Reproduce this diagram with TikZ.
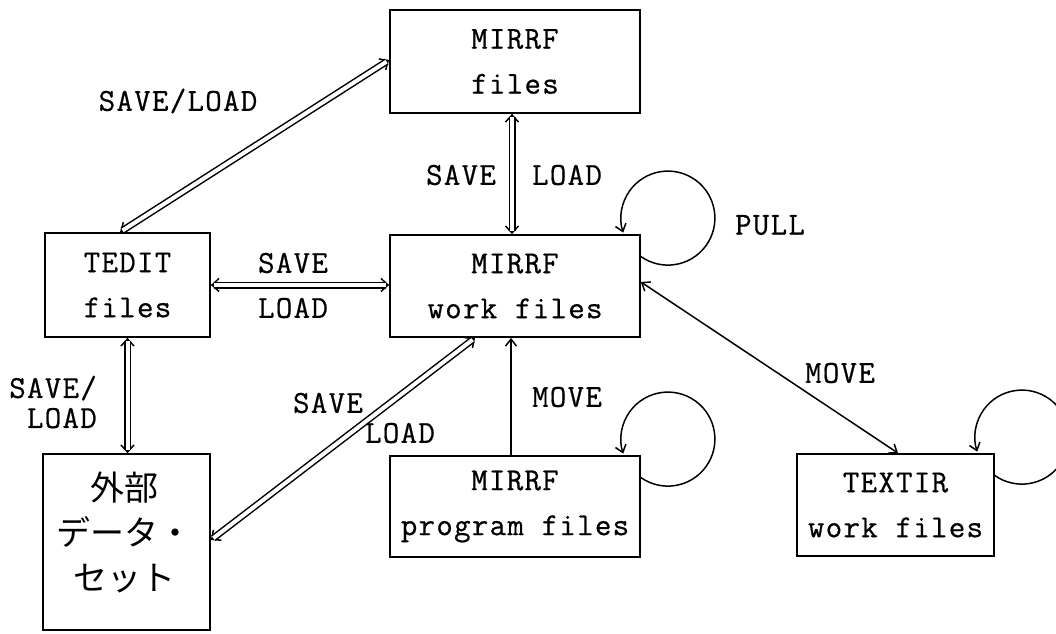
\documentclass[tikz,border=0pt]{standalone}
\usepackage{fontspec}
\setmonofont{Latin Modern Mono}[LetterSpace=4,FakeBold=0.6]
\newfontfamily\jpfont{Noto Sans CJK JP}
\usetikzlibrary{arrows.meta,calc}

\newcommand\dblarrow[2]{%
  \draw[tipped] #1 -- #2;
  \draw[dbl] #1 -- #2;}

\begin{document}
\begin{tikzpicture}[x=1pt,y=1pt,
  box/.style={draw, line width=1.8pt, inner sep=0pt, align=center,
    font=\ttfamily\fontsize{32}{45}\selectfont},
  lbl/.style={font=\ttfamily\fontsize{32}{30}\selectfont, inner sep=0pt},
  barb/.tip={Straight Barb[length=7pt,width=13pt]},
  sbarb/.tip={Straight Barb[length=7pt,width=11pt]},
  tipped/.style={line width=1.5pt, barb-barb},
  dbl/.style={double, double distance=4pt, line width=1.5pt,
    shorten <=3pt, shorten >=3pt},
  single/.style={line width=1.5pt},
  loopline/.style={line width=1.5pt, -sbarb}]
\useasboundingbox (0,0) rectangle (1056,633);
\clip (0,0) rectangle (1056,633);

% boxes
\node[box, minimum width=250, minimum height=103] (mf) at (515,571.5) {MIRRF\\files};
\node[box, minimum width=165, minimum height=104] (te) at (127.5,348) {TEDIT\\files};
\node[box, minimum width=250, minimum height=102] (mw) at (515,347) {MIRRF\\work files};
\node[box, minimum width=167, minimum height=176] (ex) at (126.5,91) {};
\node[font=\jpfont\fontsize{34}{45}\selectfont, align=center, inner sep=0pt]
  (exlbl) at (124,101) {外部\\データ・\\セット};
\node[box, minimum width=250, minimum height=101] (mp) at (515,126.5) {MIRRF\\program files};
\node[box, minimum width=197, minimum height=102] (tx) at (895.5,128) {TEXTIR\\work files};

% double-line transfers
\dblarrow{([xshift=-7.5pt]te.north)}{([yshift=1.5pt]mf.west)}
\dblarrow{([xshift=-3pt]mf.south)}{([xshift=-3pt]mw.north)}
\dblarrow{(te.east)}{(te.east -| mw.west)}
\dblarrow{(te.south)}{(te.south |- ex.north)}
\dblarrow{([yshift=2pt]ex.east)}{([xshift=-40pt]mw.south)}

% single-line moves
\draw[single, -sbarb] ([xshift=-4pt]mp.north) -- ([xshift=-4pt]mw.south);
\draw[single, sbarb-sbarb] ([yshift=4pt]mw.east) -- ([xshift=2.5pt]tx.north);

% self loops
\coordinate (c1) at ([shift={(27,16)}]mw.north east);
\coordinate (c2) at ([shift={(27,16)}]mp.north east);
\coordinate (c3) at ([shift={(27,16)}]tx.north east);
\foreach \c in {c1,c2,c3}
  \draw[loopline] ([shift={(234:47)}]\c) arc[start angle=234, end angle=558, radius=47];

% labels
\node[lbl] (l1) at (178,532) {SAVE/LOAD};
\node[lbl] (l2) at (461,458) {SAVE};
\node[lbl] (l3) at (567,458) {LOAD};
\node[lbl] (l4) at (770,408) {PULL};
\node[lbl] (l5) at (293,370) {SAVE};
\node[lbl] (l6) at (293,325) {LOAD};
\node[lbl, align=right, anchor=east] (l7) at (97,231) {SAVE/\\LOAD};
\node[lbl] (l8) at (328,230) {SAVE};
\node[lbl] (l9) at (400,200) {LOAD};
\node[lbl] (l10) at (567,236) {MOVE};
\node[lbl] (l11) at (840,260) {MOVE};
\end{tikzpicture}
\end{document}
